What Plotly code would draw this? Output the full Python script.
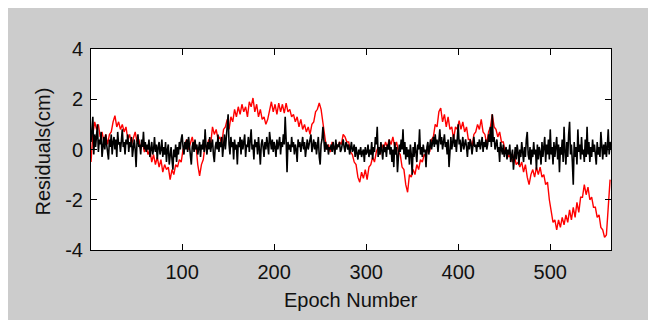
import plotly.graph_objects as go

# Red residual series, sampled every 2 epochs (epochs 1, 3, 5, ...)
red_vals = [
    -0.5, 0.6, 1.1, 0.8, 1.0, 0.5, 0.7, 0.3, 0.6, 0.2,
    0.6, 0.7, 1.1, 1.35, 0.9, 1.1, 0.8, 1.0, 0.7, 0.9,
    0.4, 0.6, 0.2, 0.5, 0.7, 0.3, 0.4, 0.0, 0.3, -0.1,
    0.1, -0.2, 0.0, -0.5, -0.2, -0.6, -0.3, -0.7, -0.4, -0.9,
    -0.6, -0.8, -0.7, -1.2, -0.8, -1.0, -0.6, -0.7, -0.4, -0.5,
    0.0, 0.2, 0.4, 0.0, 0.3, 0.5, 0.1, 0.2, -0.6, -1.05,
    -0.6, -0.4, 0.2, 0.1, 0.4, 0.2, 0.9, 0.6, 0.8, 0.4,
    0.5, 0.2, 0.8, 0.9, 1.2, 0.8, 1.3, 1.1, 1.6, 1.3,
    1.7, 1.4, 1.8, 1.5, 1.7, 1.3, 1.9, 1.7, 2.05, 1.5,
    1.8, 1.3, 1.6, 1.2, 1.3, 1.0, 1.2, 1.5, 1.9, 1.5,
    1.8, 1.4, 1.85, 1.5, 1.8, 1.45, 1.85, 1.5, 1.6, 1.3,
    1.4, 1.1, 1.3, 0.9, 1.2, 0.8, 1.0, 0.7, 0.9, 0.6,
    1.0, 1.1, 1.5, 1.6, 1.85, 1.6, 1.0, 0.5, 0.0, 0.2,
    -0.1, 0.3, 0.0, 0.2, 0.1, 0.3, 0.2, 0.6, 0.5, 0.3,
    0.3, -0.1, -0.2, -0.5, -0.6, -1.1, -1.3, -0.9, -1.15, -0.8,
    -1.2, -0.7, -0.6, -0.3, -0.5, -0.1, 0.1, -0.2, 0.2, 0.0,
    0.3, 0.1, 0.4, 0.2, 0.5, 0.1, 0.3, -0.1, -0.2, -0.7,
    -0.8, -1.4, -1.7, -1.0, -1.1, -0.8, -1.0, -0.6, -0.8, -0.4,
    -0.5, -0.2, -0.3, 0.1, -0.1, 0.4, 0.5, 1.0, 0.9, 1.5,
    1.65, 1.1, 1.4, 0.9, 1.3, 0.8, 0.9, 0.4, 0.9, 0.8,
    1.15, 0.8, 1.1, 0.7, 0.9, 0.4, 0.4, 0.1, 0.6, 0.7,
    1.0, 0.8, 1.2, 0.7, 0.6, 0.2, 0.7, 0.9, 1.4, 0.9,
    0.8, 0.5, 0.7, 0.3, 0.3, -0.1, -0.1, -0.3, -0.2, -0.5,
    -0.2, -0.6, -0.5, -0.7, -0.5, -0.9, -0.6, -1.1, -1.4, -1.0,
    -0.8, -1.1, -0.7, -1.0, -0.7, -1.1, -1.0, -1.4, -1.3, -2.0,
    -2.4, -2.9, -2.8, -3.2, -2.8, -3.1, -2.7, -3.0, -2.6, -2.9,
    -2.4, -2.8, -2.3, -2.7, -2.1, -2.5, -1.9, -1.9, -1.4, -1.8,
    -1.5, -2.0, -1.9, -2.3, -2.3, -2.7, -2.6, -3.1, -3.2, -3.5,
    -3.4, -2.2, -1.2,
]
red_epochs = list(range(1, 2 * len(red_vals), 2))

# Black residual series, every epoch (1..566)
black_vals = [
    0.3, 0.8, 1.3, -0.2, 0.6, 0.1, 0.5, 1.0, -0.1, 0.4, 0.2, 0.7, -0.3, 0.3, 0.5, 0.0, 0.6, 0.2, -0.1, -0.4,
    0.4, 0.1, 0.6, -0.2, 0.3, 0.5, 0.0, 0.4, -0.3, 0.7, 0.2, 0.3, -0.1, 0.5, 0.8, 0.1, 0.3, -0.2, 0.4, 0.2,
    0.6, -0.1, 0.3, 0.1, 0.5, -0.3, 0.2, 0.4, 0.0, -0.7, 0.3, 0.6, 0.1, 0.2, -0.2, 0.4, 0.1, 0.7, 0.0, 0.3,
    -0.1, 0.2, 0.0, 0.4, -0.3, 0.1, 0.3, -0.2, 0.0, 0.5, -0.1, 0.2, -0.4, 0.1, 0.3, -0.2, 0.0, 0.4, -0.3, 0.1,
    -0.2, 0.3, -0.5, 0.0, 0.2, -0.6, -0.1, 0.1, -0.4, -0.8, 0.0, -0.3, 0.2, -0.5, 0.1, -0.2, 0.3, 0.0, 0.4, 0.6,
    0.1, -0.2, 0.3, 0.0, 0.4, -0.1, 0.5, 0.2, -0.3, -0.6, 0.1, 0.3, -0.1, 0.4, 0.0, 0.2, -0.2, 0.1, 0.3, -0.3,
    0.2, 0.0, 0.4, -0.1, 0.8, 0.1, -0.2, 0.3, 0.0, 0.5, -0.1, 0.2, 0.4, -0.2, -0.5, 0.1, 0.3, 0.0, 0.6, -0.1,
    0.3, 0.1, 0.5, -0.3, 0.2, 0.6, 0.0, 0.4, 0.9, 1.4, 0.2, -0.2, 0.5, 0.1, 0.3, -0.4, 0.4, 0.0, 0.2, -0.6,
    0.3, 0.1, 0.5, -0.2, 0.4, 0.0, 0.3, 0.6, -0.3, 0.2, 0.1, 0.5, -0.1, 0.3, 0.8, 0.0, 0.2, -0.4, 0.4, 0.1,
    0.3, -0.2, 0.5, 0.0, -0.6, 0.2, 0.4, 0.1, -0.3, 0.3, 0.0, 0.5, 0.1, -0.2, 0.7, 0.2, 0.0, 0.4, -0.1, 0.3,
    0.1, -0.3, 0.4, 0.0, 0.2, 0.5, -0.2, 0.3, 0.1, 0.6, 0.2, 1.3, 0.4, -0.9, 0.3, 0.0, 0.2, -0.1, 0.5, 0.1,
    0.3, -0.2, 0.2, 0.0, -0.5, 0.4, 0.1, 0.3, -0.1, 0.2, 0.5, 0.0, 0.3, -0.3, 0.1, 0.4, 0.0, 0.2, 0.3, 0.6,
    -0.1, 0.2, 0.4, 0.0, 0.3, -0.2, 0.1, 0.5, -0.3, -0.6, 0.2, 0.4, 0.9, 0.1, -0.1, 0.3, 0.0, 0.2, -0.2, 0.1,
    0.0, 0.2, -0.1, 0.3, 0.1, -0.2, 0.4, 0.0, 0.2, 0.1, 0.3, -0.1, 0.0, 0.2, 0.4, 0.1, -0.1, 0.3, 0.2, 0.0,
    0.2, -0.2, 0.1, 0.3, -0.1, 0.0, 0.2, -0.3, 0.1, -0.1, -0.4, 0.0, -0.2, 0.1, -0.3, -0.1, 0.0, -0.5, 0.1, -0.2,
    -0.1, 0.2, -0.3, 0.0, -0.2, 0.3, -0.4, 0.1, -0.1, 0.5, 0.2, 0.9, -0.3, 0.1, -0.2, 0.3, 0.0, -0.4, 0.2, -0.1,
    0.1, -0.3, 0.2, 0.0, 0.4, -0.2, 0.1, -0.5, 0.0, -0.7, 0.3, -0.2, 0.1, -0.9, -0.3, 0.2, -0.1, 0.4, 0.0, 0.8,
    -0.2, 0.3, -0.4, 0.1, -0.3, 0.0, -0.6, 0.2, -0.2, -1.0, 0.1, -0.3, 0.3, -0.1, -0.5, 0.2, 0.0, 0.8, -0.2, 0.1,
    -0.3, 0.2, -0.1, 0.0, -0.7, 0.1, 0.3, -0.2, 0.2, 0.4, 0.0, 0.3, 0.5, 0.1, 0.6, 0.2, 0.4, -0.1, 0.3, 0.8,
    0.2, 0.5, 0.0, 0.4, 0.6, 0.1, 0.3, -0.2, 0.4, -0.7, 0.2, 0.5, 0.0, 0.3, 0.6, 0.1, 0.4, -0.1, 0.3, 1.0,
    0.2, 0.4, -0.1, 0.3, 0.5, 0.0, 0.2, 0.4, 0.1, -0.3, 0.3, 0.0, 0.4, 0.2, -0.2, 0.3, 0.5, 0.1, 0.2, -0.1,
    0.3, 0.1, 0.4, 0.0, 0.2, 0.5, -0.1, 0.3, 0.1, 0.4, 0.0, 0.2, 0.6, 0.3, 0.9, 0.1, 1.4, 0.3, 0.5, 0.0,
    0.2, 0.4, -0.1, 0.1, -0.5, 0.3, 0.0, -0.2, 0.2, -0.3, -0.1, 0.1, -0.4, 0.0, -0.2, 0.2, -0.5, -0.1, 0.0, -0.8,
    -0.2, 0.1, -0.4, 0.2, -0.1, -0.6, 0.0, -0.3, 0.3, -0.2, -0.5, 0.1, -0.3, 0.4, 0.7, -0.2, -0.4, 0.1, -0.6, 0.0,
    -0.3, 0.3, -0.2, 0.0, -0.8, 0.2, -0.4, 0.1, -0.1, -0.6, 0.3, -0.3, 0.0, 0.5, -0.5, 0.2, -0.2, 0.4, -0.4, 0.8,
    -0.2, 0.1, -0.6, 0.3, -0.3, 0.0, 0.5, -0.4, 0.2, -0.9, 0.1, -0.2, 0.4, -0.5, 0.9, -0.1, -0.6, 0.3, -0.3, 0.6,
    1.1, -0.2, 0.2, -0.5, -1.4, 0.3, -0.3, 0.1, -0.6, 0.8, -0.1, 0.2, -0.4, 0.5, -0.2, 0.0, -0.5, 0.4, -0.3, 0.9,
    -0.2, 0.3, -0.5, 0.1, -0.3, 0.4, -0.1, 0.2, -0.4, -0.6, 0.3, -0.2, 0.1, -0.3, 0.7, 0.0, -0.4, 0.2, -0.2, 0.3,
    -0.3, 0.1, 0.8, -0.2, 0.3, 0.0,
]
black_epochs = list(range(1, len(black_vals) + 1))

x_ticks = [100, 200, 300, 400, 500]
y_ticks = [-4, -2, 0, 2, 4]
y_tick_text = ["-4", "-2", "0", "2", "4"]
x_title = "Epoch Number"
y_title = "Residuals(cm)"

FONT = "Liberation Sans, Arial, sans-serif"

fig = go.Figure()
fig.add_trace(go.Scatter(x=red_epochs, y=red_vals, mode="lines",
                         line=dict(color="#ff0000", width=1.4), hoverinfo="skip"))
fig.add_trace(go.Scatter(x=black_epochs, y=black_vals, mode="lines",
                         line=dict(color="#000000", width=1.6), hoverinfo="skip"))

# The page body adds an 8 px offset; figure coordinates below are page - 8.
W, H = 656, 320
L, T = 83, 41
R = W - 603
B = H - 242
pw, ph = W - L - R, H - T - B

def px(xp):
    return (xp - L) / pw

def py(yp):
    return (H - B - yp) / ph

axis_common = dict(
    ticks="inside", ticklen=6, tickwidth=1, tickcolor="black",
    showline=True, linecolor="black", linewidth=1, mirror="ticks",
    showgrid=False, zeroline=False,
    tickfont=dict(family=FONT, size=20, color="#111111"),
)

fig.update_layout(
    width=W, height=H,
    margin=dict(l=L, r=R, t=T, b=B, pad=0),
    paper_bgcolor="#cccccc", plot_bgcolor="#ffffff",
    showlegend=False,
    xaxis=dict(range=[1, 566], tickvals=x_ticks, ticklabelstandoff=4, **axis_common),
    yaxis=dict(range=[-4, 4], tickvals=y_ticks, ticktext=y_tick_text,
               ticklabelstandoff=3, **axis_common),
    annotations=[
        dict(text=x_title, xref="paper", yref="paper", x=0.5, y=py(292),
             xanchor="center", yanchor="middle", showarrow=False,
             font=dict(family=FONT, size=20, color="#111111")),
        dict(text=y_title, xref="paper", yref="paper", x=px(34.5), y=py(144),
             xanchor="center", yanchor="middle", showarrow=False, textangle=-90,
             font=dict(family=FONT, size=20, color="#111111")),
    ],
)

fig.write_html("out.html")
